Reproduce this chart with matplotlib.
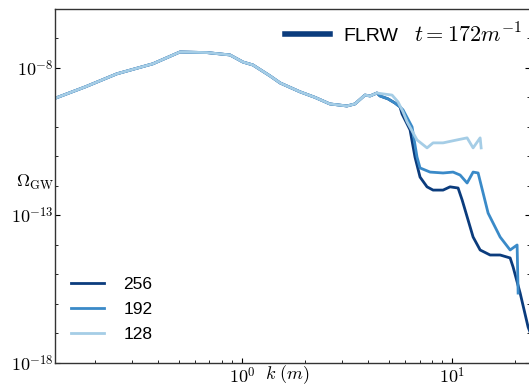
import numpy as np
import matplotlib
matplotlib.use('Agg')
import matplotlib.pyplot as plt
from matplotlib.lines import Line2D
from matplotlib.ticker import NullFormatter, FuncFormatter

plt.rcParams['mathtext.fontset'] = 'cm'

# spectrum shared by all three resolutions (log10 of Omega_GW)
k_common = [0.129, 0.18, 0.254, 0.377, 0.507, 0.681, 0.877, 1.011, 1.128, 1.36,
            1.52, 1.89, 2.23, 2.62, 3.16, 3.45, 3.85, 4.07, 4.39]
log_common = [-9.03, -8.64, -8.20, -7.86, -7.46, -7.48, -7.56, -7.80, -7.90, -8.27,
              -8.51, -8.81, -9.00, -9.22, -9.29, -9.22, -8.92, -8.95, -8.85]

# high-k branches
k_128 = [4.69, 5.18, 5.53, 5.84, 6.11, 6.81, 7.60, 8.12, 9.06, 10.56, 11.79, 12.59, 13.60, 13.75]
log_128 = [-8.88, -8.92, -9.15, -9.49, -9.83, -10.44, -10.71, -10.54, -10.54, -10.44,
           -10.37, -10.71, -10.37, -10.71]

k_192 = [4.54, 4.96, 5.35, 5.65, 5.84, 6.45, 6.81, 7.04, 7.86, 9.06, 10.11, 10.92,
         11.79, 12.59, 13.30, 14.05, 14.84, 16.93, 18.89, 20.39, 20.62]
log_192 = [-8.95, -9.05, -9.19, -9.32, -9.42, -10.0, -11.02, -11.39, -11.53, -11.56,
           -11.53, -11.63, -11.90, -11.53, -11.56, -12.24, -12.92, -13.73, -14.17,
           -14.0, -15.63]

k_256 = [4.54, 4.96, 5.35, 5.65, 5.78, 6.31, 6.66, 7.04, 7.60, 8.12, 9.06, 9.78,
         10.68, 11.16, 11.53, 12.59, 13.60, 15.17, 16.93, 18.89, 19.52, 21.08, 23.0, 24.8]
log_256 = [-8.95, -9.05, -9.19, -9.32, -9.56, -10.10, -11.02, -11.70, -12.03, -12.14,
           -12.14, -12.03, -12.07, -12.47, -12.81, -13.73, -14.17, -14.34, -14.34,
           -14.44, -14.75, -15.63, -16.78, -17.4]

labels = ['256', '192', '128']
colors = ['#0b3c7d', '#3a8ac8', '#a5cde6']
sans = 'Liberation Sans'

fig = plt.figure(figsize=(5.29, 3.87), dpi=100)
ax = fig.add_axes([0.104, 0.062, 0.898, 0.915])

series = [(k_256, log_256), (k_192, log_192), (k_128, log_128)]
handles = []
for (kk, ll), lab, col in zip(series, labels, colors):
    k = np.array(k_common + kk)
    om = 10.0 ** np.array(log_common + ll)
    h, = ax.plot(k, om, color=col, lw=2, label=lab)
    handles.append(h)

ax.set_xscale('log')
ax.set_yscale('log')
ax.set_xlim(0.129, 23.5)
ax.set_ylim(1e-18, 1e-6)

ax.set_yticks([1e-18, 1e-13, 1e-8])
ax.set_yticks(10.0 ** np.arange(-17, -5), minor=True)
ax.yaxis.set_minor_formatter(NullFormatter())
ax.xaxis.set_minor_formatter(NullFormatter())

# tick labels in Computer Modern, like the original
pow10 = FuncFormatter(lambda v, pos: r'$10^{%d}$' % int(round(np.log10(v))))
ax.xaxis.set_major_formatter(pow10)
ax.yaxis.set_major_formatter(pow10)

ax.tick_params(which='both', direction='in', right=True, top=False, labelsize=13)
ax.tick_params(axis='y', pad=1)
ax.tick_params(axis='x', pad=3)
for s in ax.spines.values():
    s.set_color('#333333')
    s.set_linewidth(1.0)

ax.set_ylabel(r'$\Omega_{\rm GW}$', rotation=0, fontsize=13, ha='right', va='center')
ax.yaxis.set_label_coords(-0.002, 0.51)
ax.set_xlabel(r'$k\ (m)$', fontsize=13, va='bottom')
ax.xaxis.set_label_coords(0.49, -0.064)

leg1 = ax.legend(handles=handles, loc='lower left', frameon=False,
                 prop={'family': sans, 'size': 12.5},
                 handlelength=1.9, handletextpad=1.1, labelspacing=0.58,
                 borderpad=0, borderaxespad=0,
                 bbox_to_anchor=(0.034, 0.058))
ax.add_artist(leg1)
proxy = Line2D([], [], color='#0b3c7d', lw=4)
ax.legend([proxy], ['FLRW'], loc='upper right',
          frameon=False, prop={'family': sans, 'size': 14},
          handlelength=2.3, handletextpad=0.67,
          borderpad=0, borderaxespad=0,
          bbox_to_anchor=(0.722, 0.948))
ax.text(0.983, 0.905, r'$t=172m^{-1}$', transform=ax.transAxes, fontsize=16,
        ha='right', va='baseline')

fig.savefig('out.png', dpi=100)
